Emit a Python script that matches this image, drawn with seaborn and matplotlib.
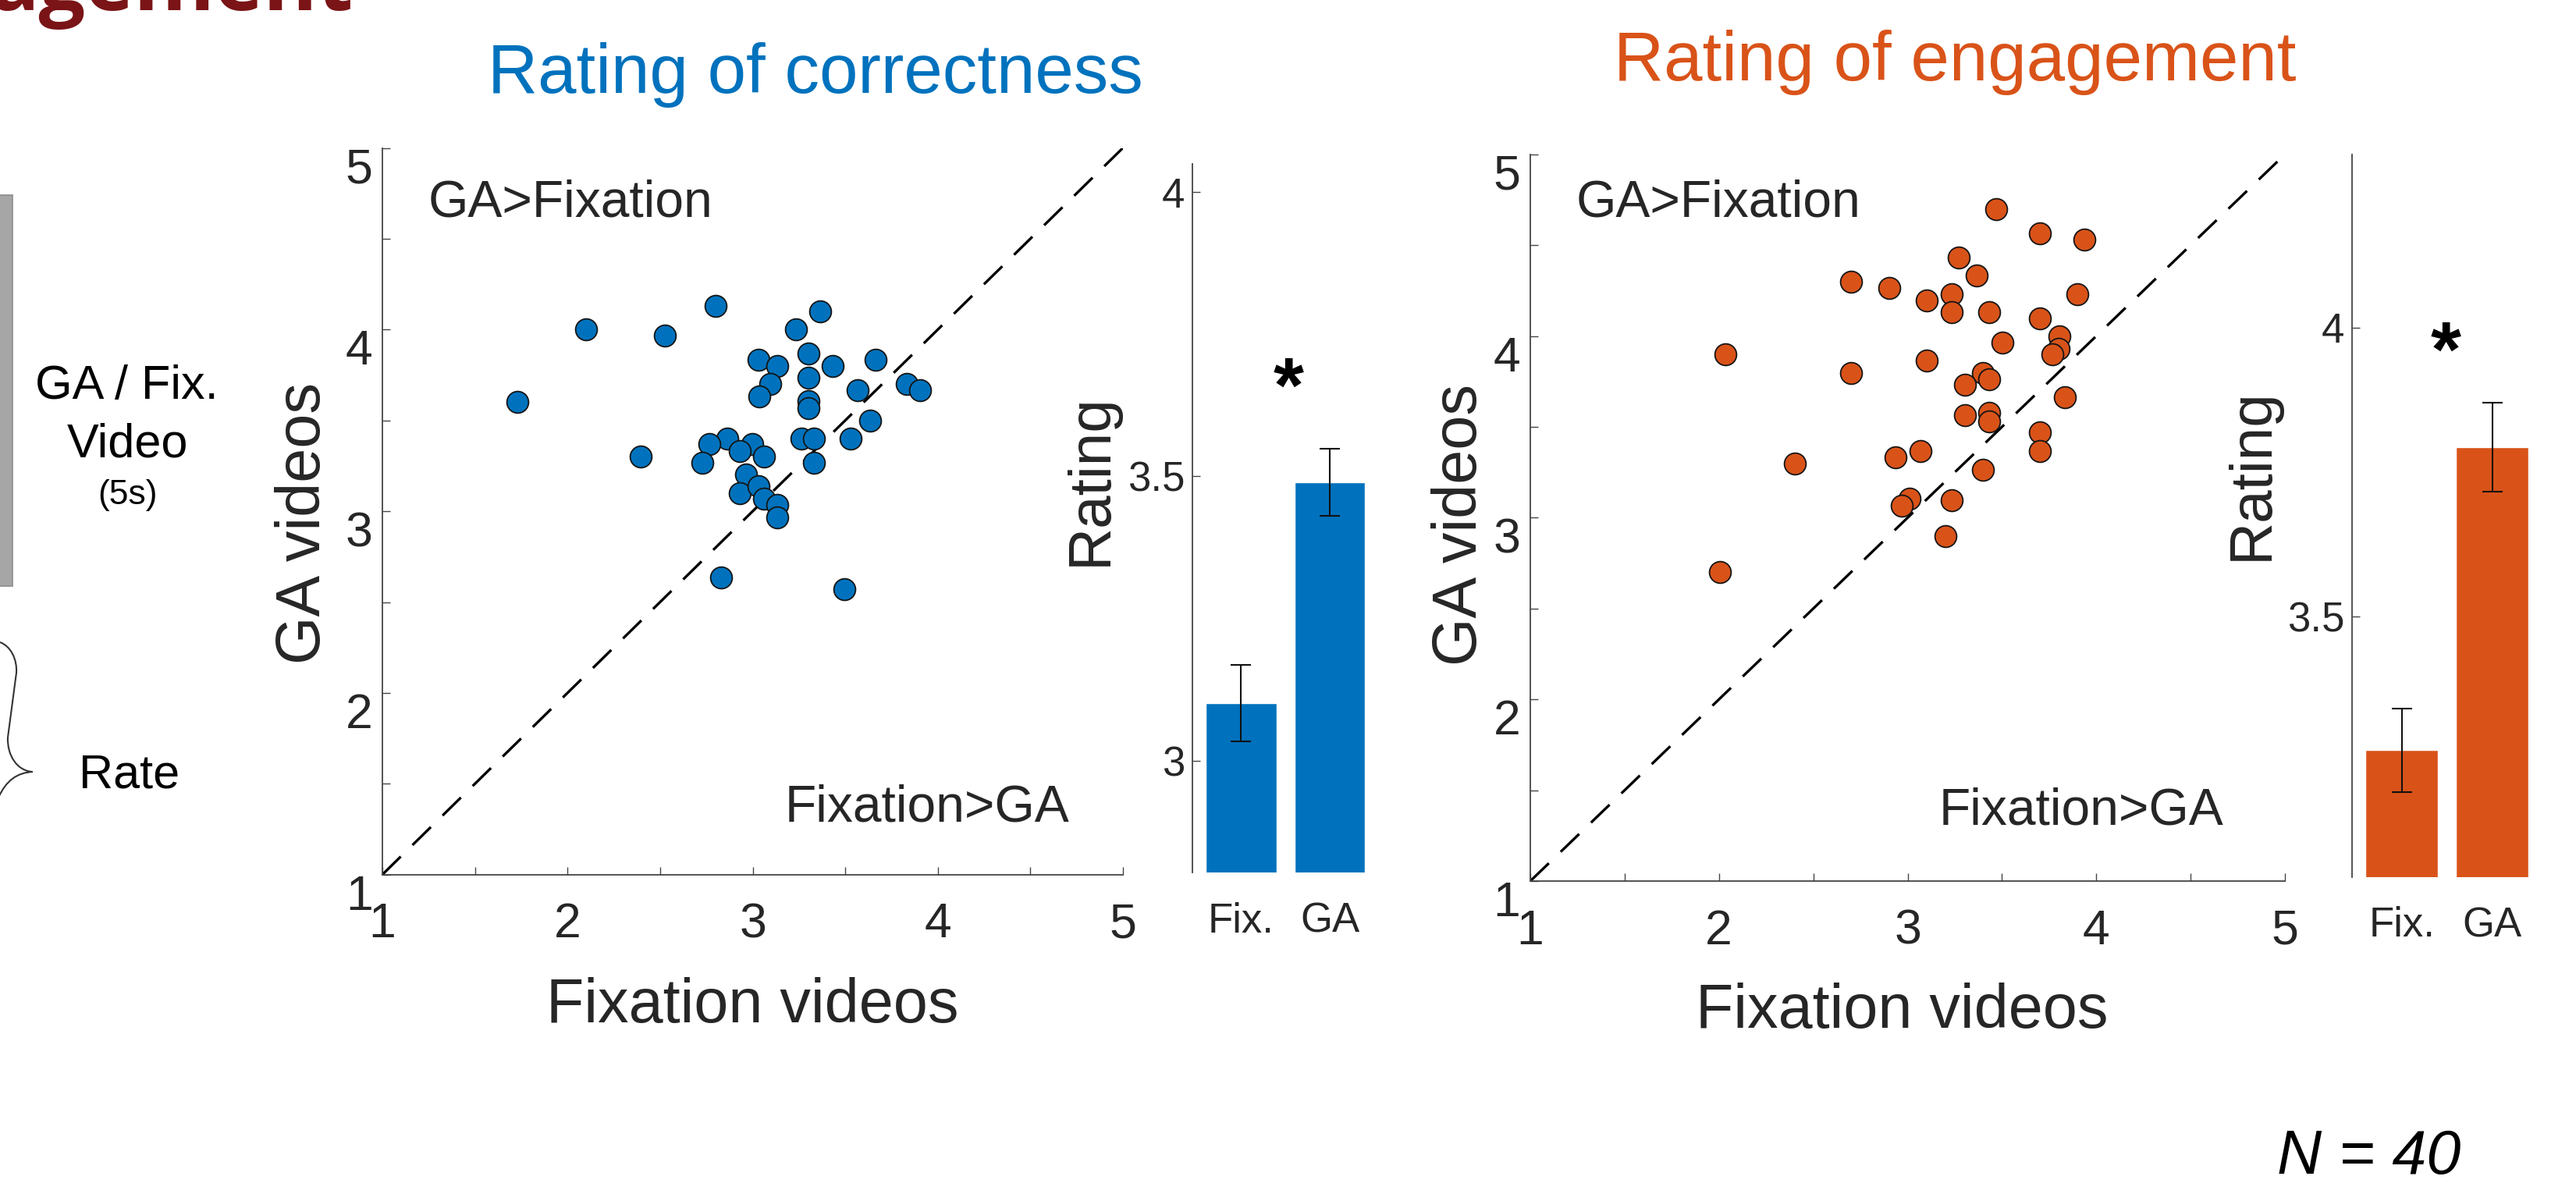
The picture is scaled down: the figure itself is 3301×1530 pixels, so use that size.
import numpy as np
import pandas as pd
import matplotlib
matplotlib.use("Agg")
import matplotlib.pyplot as plt
import seaborn as sns
from matplotlib.path import Path
from matplotlib.patches import PathPatch, Rectangle
from matplotlib.transforms import ScaledTranslation

# ---- per-participant mean ratings (x: fixation videos, y: GA videos) ----
corr_fix = [1.728, 2.098, 2.524, 2.394, 2.829, 3.495,
            2.798, 3.366, 3.234, 3.300, 3.031, 3.131, 3.432, 3.665, 3.300,
            3.096, 3.566, 3.832, 3.903, 3.034, 3.300, 3.300, 3.633, 2.862,
            2.765, 2.999, 2.931, 3.063, 2.729, 3.263, 3.332, 3.530, 3.332,
            2.965, 2.931, 3.033, 3.061, 3.131, 3.131]
corr_ga = [3.600, 4.000, 3.967, 3.301, 2.636, 2.570,
           4.131, 4.099, 4.000, 3.867, 3.832, 3.801, 3.799, 3.834, 3.734,
           3.699, 3.666, 3.699, 3.666, 3.633, 3.605, 3.569, 3.500, 3.401,
           3.369, 3.371, 3.333, 3.301, 3.268, 3.400, 3.400, 3.400, 3.268,
           3.202, 3.100, 3.137, 3.068, 3.036, 2.967]

eng_fix = [2.033, 2.004, 2.401,
           3.470, 3.701, 3.935, 3.270, 3.368, 2.702, 2.901, 3.103, 3.235,
           3.235, 3.434, 3.900, 3.701, 3.803, 3.801, 3.766, 3.503, 2.702,
           3.103, 3.401, 3.434, 3.302, 3.302, 3.434, 3.434, 3.835, 3.701,
           3.701, 2.935, 3.070, 3.401, 3.009, 2.970, 3.235, 3.202]
eng_ga = [3.899, 2.699, 3.299,
          4.697, 4.564, 4.532, 4.432, 4.332, 4.300, 4.265, 4.197, 4.232,
          4.131, 4.131, 4.232, 4.097, 3.998, 3.931, 3.898, 3.965, 3.798,
          3.864, 3.798, 3.762, 3.731, 3.566, 3.576, 3.530, 3.665, 3.469,
          3.366, 3.332, 3.366, 3.265, 3.104, 3.065, 3.098, 2.897]

# ---- group means and SEM ----
conditions = ["Fix.", "GA"]
corr_mean = [3.101, 3.490]
corr_sem = [0.067, 0.059]
eng_mean = [3.268, 3.793]
eng_sem = [0.072, 0.077]

scatter_ticks = [1, 1.5, 2, 2.5, 3, 3.5, 4, 4.5, 5]
scatter_ticklabels = ["1", "", "2", "", "3", "", "4", "", "5"]
corr_bar_ticks = [3, 3.5, 4]
eng_bar_ticks = [3.5, 4]

BLUE = "#0072BD"
ORANGE = "#D95319"
DARK = "#262626"

sns.set_style("ticks")
plt.rcParams["font.family"] = ["Liberation Sans", "DejaVu Sans"]

W, H = 3301, 1530
DPI = 100
fig = plt.figure(figsize=(W / DPI, H / DPI), dpi=DPI)


def px_rect(left, top, right, bottom):
    return [left / W, 1 - bottom / H, (right - left) / W, (bottom - top) / H]


def fx(x):
    return x / W


def fy(y):
    return 1 - y / H


def scatter_panel(rect, xs, ys, color, ylab_pos, xlab_pos, txt_hi, txt_lo):
    ax = fig.add_axes(rect)
    ax.axline((1, 1), slope=1, color="black", lw=2.4,
              linestyle=(0, (9.9, 6.3)), zorder=1)
    sns.scatterplot(x=xs, y=ys, ax=ax, s=400, color=color,
                    edgecolor="#151515", linewidth=1.3, zorder=3)
    ax.set_xlim(1, 5)
    ax.set_ylim(1, 5)
    ax.set_xticks(scatter_ticks)
    ax.set_yticks(scatter_ticks)
    ax.set_xticklabels(scatter_ticklabels)
    ax.set_yticklabels(scatter_ticklabels)
    ax.tick_params(axis="both", direction="in", length=7, width=1.0,
                   color="#444444", labelsize=45, labelcolor=DARK)
    ax.tick_params(axis="x", pad=25)
    ax.tick_params(axis="y", pad=9)
    sns.despine(ax=ax)
    for sp in ("left", "bottom"):
        ax.spines[sp].set_color("#444444")
        ax.spines[sp].set_linewidth(1.3)
    ax.set_xlabel("Fixation videos", fontsize=57, color=DARK,
                  va="center", ha="center")
    ax.set_ylabel("GA videos", fontsize=57, color=DARK,
                  va="center", ha="center")
    ax.xaxis.set_label_coords(*xlab_pos)
    ax.yaxis.set_label_coords(*ylab_pos)
    ax.text(txt_hi[0], txt_hi[1], "GA>Fixation", fontsize=47.5,
            color=DARK, ha="left", va="baseline")
    ax.text(txt_lo[0], txt_lo[1], "Fixation>GA", fontsize=47.5,
            color=DARK, ha="left", va="baseline")
    # y tick labels sit slightly below their ticks
    shift = ScaledTranslation(0, -22 / DPI, fig.dpi_scale_trans)
    for lbl in ax.get_yticklabels():
        lbl.set_transform(lbl.get_transform() + shift)
    return ax


def bar_panel(rect, means, sems, color, yticks, ylim, ylab_pos, star_xy):
    ax = fig.add_axes(rect)
    df = pd.DataFrame({"cond": conditions, "rating": means})
    sns.barplot(data=df, x="cond", y="rating", ax=ax, color=color,
                saturation=1, width=0.8, errorbar=None)
    ax.errorbar(x=np.arange(len(means)), y=means, yerr=sems, fmt="none",
                ecolor="#111111", elinewidth=1.5, capsize=9.7,
                capthick=1.5, zorder=4)
    ax.set_xlim(-0.55, 1.55)
    ax.set_ylim(*ylim)
    ax.set_yticks(yticks)
    ax.set_yticklabels([f"{t:g}" for t in yticks])
    ax.tick_params(axis="y", direction="in", length=7, width=1.0,
                   color="#444444", labelsize=38, labelcolor=DARK, pad=7)
    ax.tick_params(axis="x", length=0, labelsize=38, labelcolor=DARK,
                   pad=27)
    sns.despine(ax=ax, bottom=True)
    ax.spines["left"].set_color("#444444")
    ax.spines["left"].set_linewidth(1.3)
    ax.set_xlabel("")
    ax.set_ylabel("Rating", fontsize=55, color=DARK, va="center",
                  ha="center")
    ax.yaxis.set_label_coords(*ylab_pos)
    ax.annotate("*", xy=star_xy, xytext=(0, -37), textcoords="offset points",
                ha="center", va="baseline", fontsize=72, fontweight="bold",
                color="black")
    return ax


# ---- rating of correctness ----
scatter_panel(px_rect(490, 189.5, 1439, 1120.7), corr_fix, corr_ga, BLUE,
              ylab_pos=(-0.106, 0.483), xlab_pos=(0.5, -0.181),
              txt_hi=(1.246, 4.62), txt_lo=(3.174, 1.293))
bar_panel(px_rect(1528, 209.6, 1766.5, 1118.4), corr_mean, corr_sem, BLUE,
          corr_bar_ticks, (2.803, 4.05), ylab_pos=(-0.545, 0.554),
          star_xy=(0.534, 3.684))

# ---- rating of engagement ----
scatter_panel(px_rect(1961, 197.8, 2928, 1129), eng_fix, eng_ga, ORANGE,
              ylab_pos=(-0.093, 0.49), xlab_pos=(0.492, -0.180),
              txt_hi=(1.244, 4.658), txt_lo=(3.167, 1.310))
bar_panel(px_rect(3014, 197.7, 3257.6, 1124), eng_mean, eng_sem, ORANGE,
          eng_bar_ticks, (3.048, 4.30), ylab_pos=(-0.525, 0.557),
          star_xy=(0.484, 3.986))

# ---- titles ----
fig.text(fx(1045), fy(119), "Rating of correctness", fontsize=64,
         color=BLUE, ha="center", va="baseline")
fig.text(fx(2505), fy(103), "Rating of engagement", fontsize=64,
         color=ORANGE, ha="center", va="baseline")
fig.text(fx(453), fy(13), "agement", fontsize=76, fontweight="bold",
         color="#7A1416", ha="right", va="baseline",
         family=["Open Sans", "DejaVu Sans"])

# ---- trial schematic on the left ----
fig.add_artist(Rectangle((fx(-2), fy(751)), (18) / W, 501 / H,
                         transform=fig.transFigure, facecolor="#A6A6A6",
                         edgecolor="#8C8C8C", lw=1.2))
fig.text(fx(162), fy(511), "GA / Fix.", fontsize=44, color="black",
         ha="center", va="baseline")
fig.text(fx(163), fy(586), "Video", fontsize=44, color="black",
         ha="center", va="baseline")
fig.text(fx(163), fy(646), "(5s)", fontsize=32, color="black",
         ha="center", va="baseline")
fig.text(fx(166), fy(1010), "Rate", fontsize=44, color="black",
         ha="center", va="baseline")

brace_pts = [(0, 823), (14, 828), (22, 845), (21, 862),
             (10, 945),
             (9, 968), (22, 988), (42, 989),
             (42, 989), (22, 990), (8, 1000), (-2, 1022)]
brace_codes = [Path.MOVETO, Path.CURVE4, Path.CURVE4, Path.CURVE4,
               Path.LINETO,
               Path.CURVE4, Path.CURVE4, Path.CURVE4,
               Path.MOVETO, Path.CURVE4, Path.CURVE4, Path.CURVE4]
brace = Path([(fx(x), fy(y)) for x, y in brace_pts], brace_codes)
fig.add_artist(PathPatch(brace, transform=fig.transFigure, fill=False,
                         edgecolor="#333333", lw=1.5))

fig.text(fx(2918), fy(1504), "N = 40", fontsize=57, style="italic",
         color="black", ha="left", va="baseline")

fig.savefig("out.png", dpi=DPI)
